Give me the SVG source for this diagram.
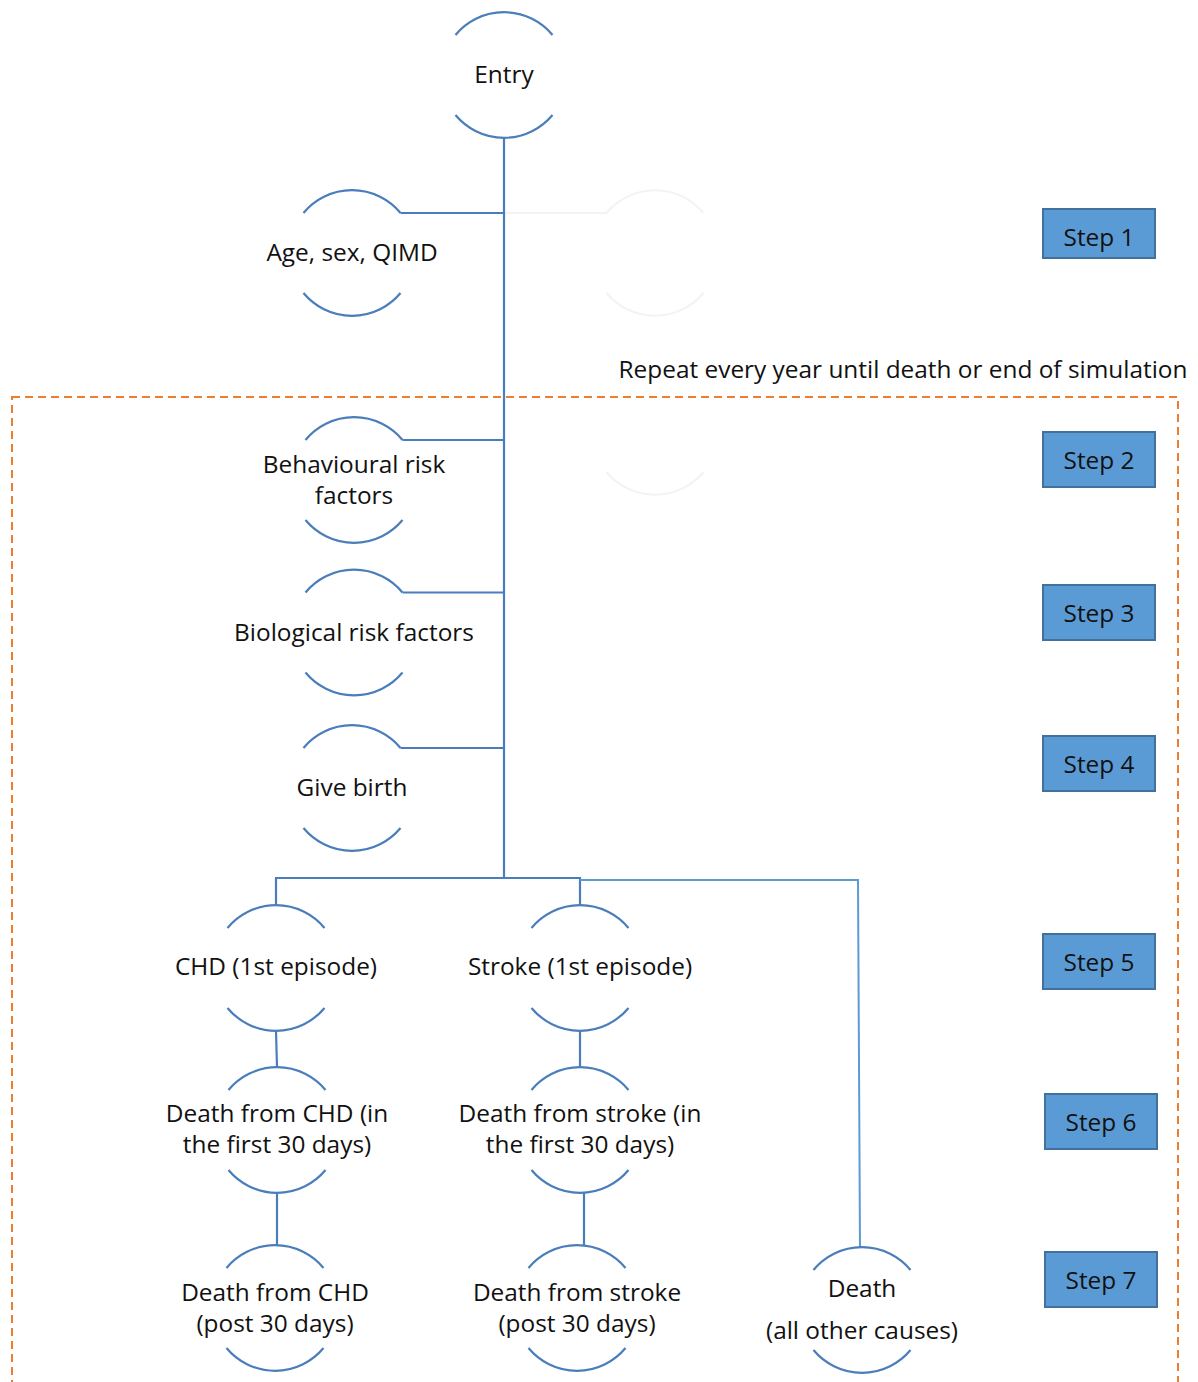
<svg xmlns="http://www.w3.org/2000/svg" width="1198" height="1382" viewBox="0 0 1198 1382">
<style>
.arc{fill:none;stroke:#4A7EBB;stroke-width:2.2}
.faint{fill:none;stroke:#f3f3f3;stroke-width:2}
.conn{fill:none;stroke:#4A7EBB;stroke-width:2.2}
.conn2{fill:none;stroke:#5B9BD5;stroke-width:2}
.t{font-family:"Open Sans","Liberation Sans",Arial,sans-serif;font-size:24.4px;fill:#111;text-anchor:middle}
.step rect{fill:#5B9BD5;stroke:#41719C;stroke-width:2}
.step text{font-family:"Open Sans","Liberation Sans",Arial,sans-serif;font-size:24.4px;fill:#111;text-anchor:middle}
</style>
<defs>
<path id="arcs" d="M-48.5,-40 A63,63 0 0 1 48.5,-40 M-48.5,40 A63,63 0 0 0 48.5,40"/>
</defs>
<rect width="1198" height="1382" fill="#fff"/>
<!-- loop region -->
<rect x="12" y="397" width="1166" height="1000" fill="none" stroke="#ED7D31" stroke-width="2" stroke-dasharray="8,5"/>
<text class="t" x="903" y="378">Repeat every year until death or end of simulation</text>
<!-- faint ghost arcs -->
<g>
<path class="faint" d="M504,213 H607"/>
<use href="#arcs" class="faint" transform="translate(655,253)"/>
<path class="faint" d="M606.5,472 A63,63 0 0 0 703.5,472"/>
</g>
<g id="connectors">
<path class="conn" d="M504,137 V878"/>
<path class="conn" d="M400.5,213 H504"/>
<path class="conn" d="M402.5,440 H504"/>
<path class="conn" d="M402.5,592.5 H504"/>
<path class="conn" d="M400.5,748 H504"/>
<path class="conn" d="M276,905 V878 H580 V905"/>
<path class="conn2" d="M580,880 H858 L860,1248"/>
<path class="conn" d="M276,1031 L277,1067"/>
<path class="conn" d="M580,1031 V1067"/>
<path class="conn" d="M277,1193 V1246"/>
<path class="conn" d="M584,1193 V1246"/>
</g>
<g id="entry" transform="translate(504,75)"><use href="#arcs" class="arc"/><text class="t" y="8">Entry</text></g>
<g id="age" transform="translate(352,253)"><use href="#arcs" class="arc"/><text class="t" y="8">Age, sex, QIMD</text></g>
<g id="behavioural" transform="translate(354,480)"><use href="#arcs" class="arc"/><text class="t" y="-7">Behavioural risk</text><text class="t" y="24">factors</text></g>
<g id="biological" transform="translate(354,632.5)"><use href="#arcs" class="arc"/><text class="t" y="8">Biological risk factors</text></g>
<g id="birth" transform="translate(352,788)"><use href="#arcs" class="arc"/><text class="t" y="8">Give birth</text></g>
<g id="chd" transform="translate(276,968)"><use href="#arcs" class="arc"/><text class="t" y="7">CHD (1st episode)</text></g>
<g id="stroke" transform="translate(580,968)"><use href="#arcs" class="arc"/><text class="t" y="7">Stroke (1st episode)</text></g>
<g id="chd30" transform="translate(277,1130)"><use href="#arcs" class="arc"/><text class="t" y="-8">Death from CHD (in</text><text class="t" y="23">the first 30 days)</text></g>
<g id="stroke30" transform="translate(580,1130)"><use href="#arcs" class="arc"/><text class="t" y="-8">Death from stroke (in</text><text class="t" y="23">the first 30 days)</text></g>
<g id="chdpost" transform="translate(275,1308)"><use href="#arcs" class="arc"/><text class="t" y="-7">Death from CHD</text><text class="t" y="24">(post 30 days)</text></g>
<g id="strokepost" transform="translate(577,1308)"><use href="#arcs" class="arc"/><text class="t" y="-7">Death from stroke</text><text class="t" y="24">(post 30 days)</text></g>
<g id="death" transform="translate(862,1310)"><use href="#arcs" class="arc"/><text class="t" y="-13">Death</text><text class="t" y="29">(all other causes)</text></g>
<g id="step1" class="step"><rect x="1043" y="209" width="112" height="49"/><text x="1099" y="246">Step 1</text></g>
<g id="step2" class="step"><rect x="1043" y="432" width="112" height="55"/><text x="1099" y="469">Step 2</text></g>
<g id="step3" class="step"><rect x="1043" y="585" width="112" height="55"/><text x="1099" y="622">Step 3</text></g>
<g id="step4" class="step"><rect x="1043" y="736" width="112" height="55"/><text x="1099" y="773">Step 4</text></g>
<g id="step5" class="step"><rect x="1043" y="934" width="112" height="55"/><text x="1099" y="971">Step 5</text></g>
<g id="step6" class="step"><rect x="1045" y="1094" width="112" height="55"/><text x="1101" y="1131">Step 6</text></g>
<g id="step7" class="step"><rect x="1045" y="1252" width="112" height="55"/><text x="1101" y="1289">Step 7</text></g>
</svg>
